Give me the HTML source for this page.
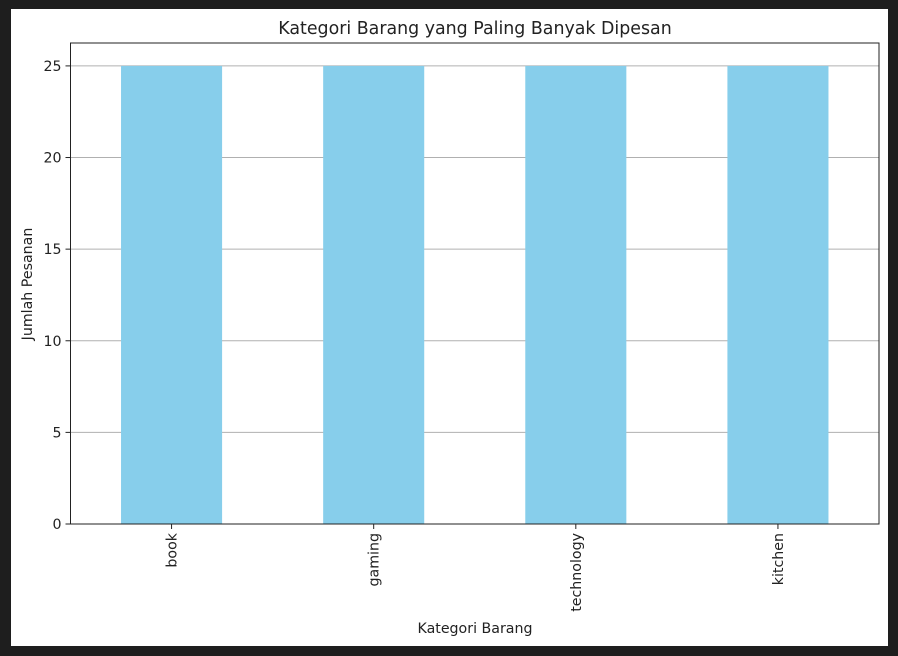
<!DOCTYPE html>
<html><head><meta charset="utf-8"><style>
html,body{margin:0;padding:0;background:#1e1e1e;}
svg{display:block;font-family:"DejaVu Sans","Liberation Sans",sans-serif;}
</style></head><body>
<svg id="chart" width="898" height="656" xmlns="http://www.w3.org/2000/svg">
<rect x="11" y="9" width="877" height="637" fill="#fff"/>
<g id="grid"></g><g id="bars"></g><g id="axes"></g>
<text x="475" y="34" text-anchor="middle" font-size="17.4" fill="#222">Kategori Barang yang Paling Banyak Dipesan</text>
<text x="475" y="633" text-anchor="middle" font-size="14.2" fill="#222">Kategori Barang</text>
<text transform="translate(32,284) rotate(-90)" text-anchor="middle" font-size="14.2" fill="#222">Jumlah Pesanan</text>
</svg>
<script>
const categories = ["book","gaming","technology","kitchen"];
const values = [25,25,25,25];
const yTicks = [0,5,10,15,20,25];
const L=70.5,R=879,T=43,B=524,yMax=26.25;
const ns="http://www.w3.org/2000/svg";
function y(v){return B-(v/yMax)*(B-T);}
const step=(R-L)/categories.length;
function xc(i){return L+step*(i+0.5);}
function mk(tag,attrs,parent){const e=document.createElementNS(ns,tag);for(const k in attrs)e.setAttribute(k,attrs[k]);document.getElementById(parent).appendChild(e);return e;}
yTicks.forEach(t=>{
  const g=mk('line',{x1:L,x2:R,y1:y(t),y2:y(t),stroke:'#b0b0b0','stroke-width':1},'grid');
  
  
  const tk=mk('line',{x1:L-5,x2:L,y1:y(t),y2:y(t),stroke:'#222','stroke-width':1},'axes');
  
  
  const tx=mk('text',{x:L-9,y:y(t)+5,'text-anchor':'end','font-size':14.2,fill:'#222'},'axes');
  tx.textContent=t;
  
  
});
categories.forEach((c,i)=>{
  const w=step*0.5;
  const b=mk('rect',{x:xc(i)-w/2,y:y(values[i]),width:w,height:B-y(values[i]),fill:'#87ceeb'},'bars');
  
  
  const tk=mk('line',{x1:xc(i),x2:xc(i),y1:B,y2:B+5,stroke:'#222','stroke-width':1},'axes');
  
  
  const tx=mk('text',{transform:`translate(${xc(i)+5},${B+9}) rotate(-90)`,'text-anchor':'end','font-size':14.2,fill:'#222'},'axes');
  tx.textContent=c;
  
  
});
const f=mk('rect',{x:L,y:T,width:R-L,height:B-T,fill:'none',stroke:'#222','stroke-width':1},'axes');


</script>
</body></html>
